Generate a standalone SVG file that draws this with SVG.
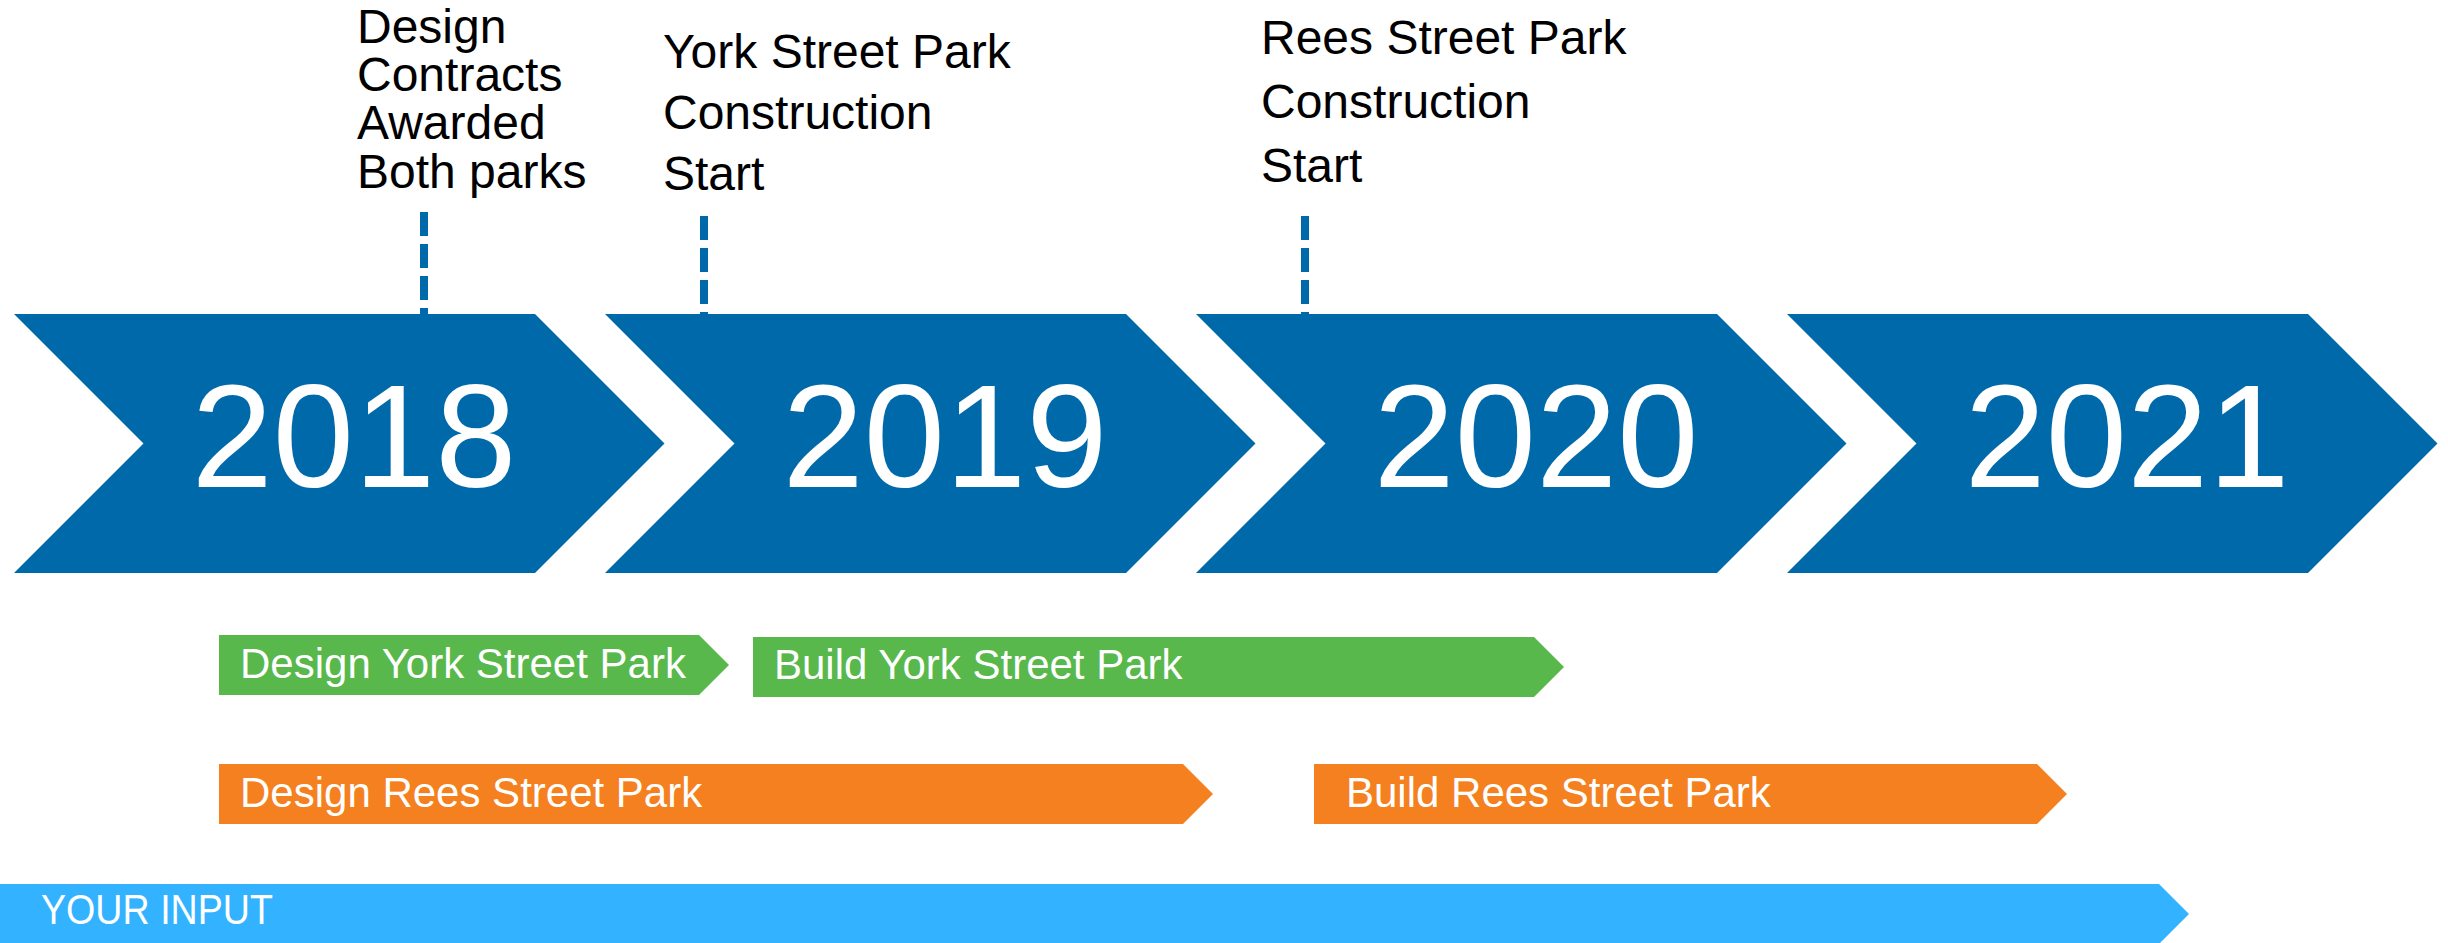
<svg xmlns="http://www.w3.org/2000/svg" width="2448" height="943" viewBox="0 0 2448 943">
<style>
.chev{fill:#0069AA}
.year{font-family:"Liberation Sans",Arial,sans-serif;font-size:146px;fill:#fff;text-anchor:middle}
.lbl{font-family:"Liberation Sans",Arial,sans-serif;font-size:48px;fill:#000}
.bar{font-family:"Liberation Sans",Arial,sans-serif;font-size:42px;fill:#fff}
.dash{stroke:#0069AA;stroke-width:8;stroke-dasharray:24 8;fill:none}
</style>
<rect width="2448" height="943" fill="#fff"/>
<g id="connectors">
<line class="dash" x1="424" y1="212" x2="424" y2="314"/>
<line class="dash" x1="704" y1="216" x2="704" y2="314"/>
<line class="dash" x1="1305" y1="216" x2="1305" y2="314"/>
</g>
<g id="year-2018">
<polygon class="chev" points="14,314 535,314 664.5,443.5 535,573 14,573 143.5,443.5"/>
<text class="year" x="354" y="487">2018</text>
</g>
<g id="year-2019">
<polygon class="chev" points="605,314 1126,314 1255.5,443.5 1126,573 605,573 734.5,443.5"/>
<text class="year" x="945" y="487">2019</text>
</g>
<g id="year-2020">
<polygon class="chev" points="1196,314 1717,314 1846.5,443.5 1717,573 1196,573 1325.5,443.5"/>
<text class="year" x="1536" y="487">2020</text>
</g>
<g id="year-2021">
<polygon class="chev" points="1787,314 2308,314 2437.5,443.5 2308,573 1787,573 1916.5,443.5"/>
<text class="year" x="2127" y="487">2021</text>
</g>
<g id="milestone-design-contracts">
<text class="lbl" x="357" y="43">Design</text>
<text class="lbl" x="357" y="91">Contracts</text>
<text class="lbl" x="357" y="139">Awarded</text>
<text class="lbl" x="357" y="188">Both parks</text>
</g>
<g id="milestone-york-construction">
<text class="lbl" x="663" y="68">York Street Park</text>
<text class="lbl" x="663" y="129">Construction</text>
<text class="lbl" x="663" y="190">Start</text>
</g>
<g id="milestone-rees-construction">
<text class="lbl" x="1261" y="54">Rees Street Park</text>
<text class="lbl" x="1261" y="118">Construction</text>
<text class="lbl" x="1261" y="182">Start</text>
</g>
<g id="design-york">
<polygon fill="#58B84C" points="219,635 699,635 729,665 699,695 219,695"/>
<text class="bar" x="240" y="678">Design York Street Park</text>
</g>
<g id="build-york">
<polygon fill="#58B84C" points="753,637 1534,637 1564,667 1534,697 753,697"/>
<text class="bar" x="774" y="679">Build York Street Park</text>
</g>
<g id="design-rees">
<polygon fill="#F58020" points="219,764 1183,764 1213,794 1183,824 219,824"/>
<text class="bar" x="240" y="807">Design Rees Street Park</text>
</g>
<g id="build-rees">
<polygon fill="#F58020" points="1314,764 2037,764 2067,794 2037,824 1314,824"/>
<text class="bar" x="1346" y="807">Build Rees Street Park</text>
</g>
<g id="your-input">
<polygon fill="#33B2FF" points="0,884 2159,884 2189,914 2159,944 0,944"/>
<text class="bar" x="41" y="924" textLength="232" lengthAdjust="spacingAndGlyphs">YOUR INPUT</text>
</g>
</svg>
